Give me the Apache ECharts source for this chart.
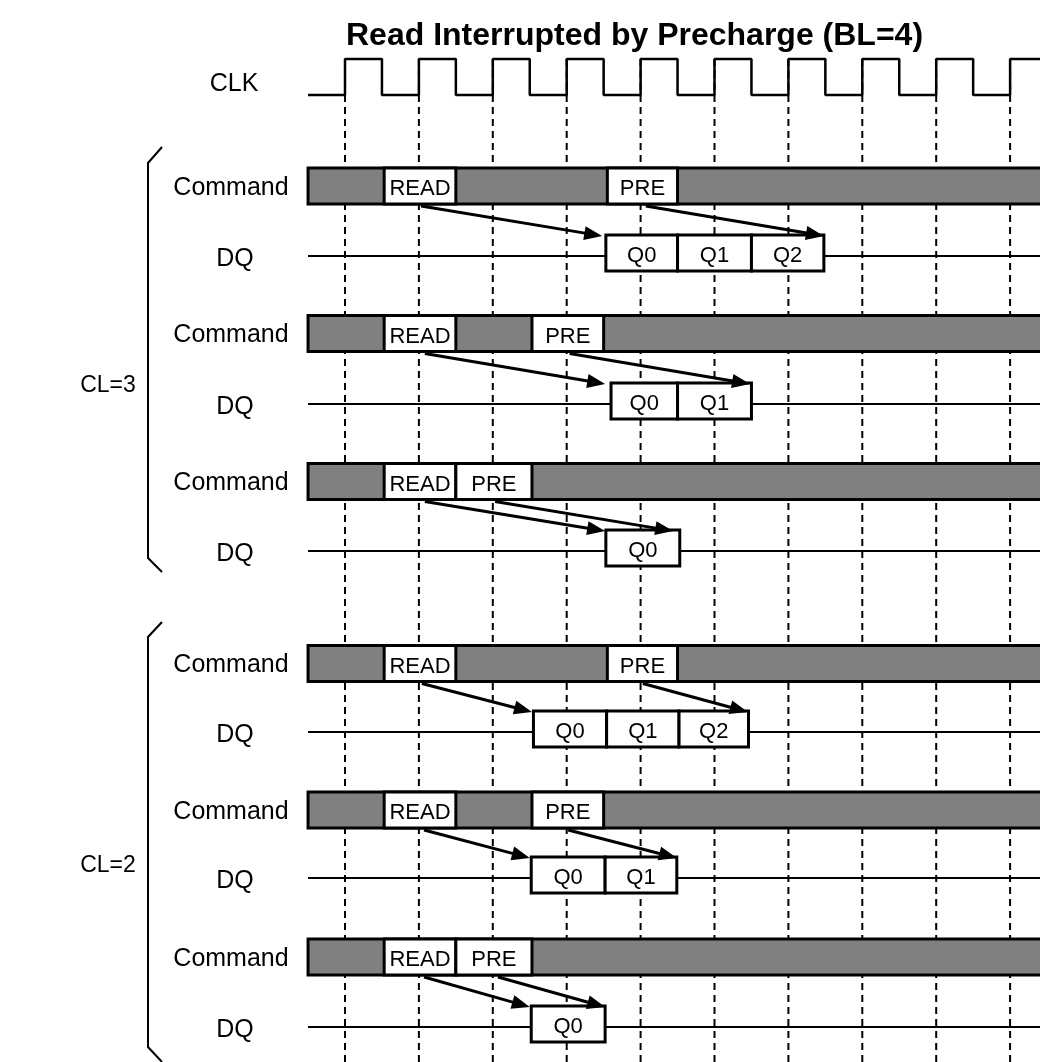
<!DOCTYPE html>
<html><head><meta charset="utf-8">
<script src="https://cdn.jsdelivr.net/npm/echarts@6/dist/echarts.min.js"></script>
<style>html,body{margin:0;padding:0;background:#fff}#c{width:1040px;height:1062px}</style>
</head><body><div id="c"></div>
<script>
// ---------- data ----------
const titleText = 'Read Interrupted by Precharge (BL=4)';
const clockRisingEdges = [0, 1, 2, 3, 4, 5, 6, 7, 8, 9];   // in clock cycles
const clockStart = -0.5, clockEnd = 9.6;
const clockHalf = 0.5;
const laneNames = ['CLK', 'Command', 'DQ'];
const groupNames = ['CL=3', 'CL=2'];
// command cells per row: [label, start, end] (cycles)
const cmdCells = [
  [['READ', 0.53, 1.5], ['PRE', 3.55, 4.5]],
  [['READ', 0.53, 1.5], ['PRE', 2.53, 3.5]],
  [['READ', 0.53, 1.5], ['PRE', 1.5, 2.53]],
  [['READ', 0.53, 1.5], ['PRE', 3.55, 4.5]],
  [['READ', 0.53, 1.5], ['PRE', 2.53, 3.5]],
  [['READ', 0.53, 1.5], ['PRE', 1.5, 2.53]]
];
// data-out cells per row: [label, start, end]
const dqCells = [
  [['Q0', 3.53, 4.5], ['Q1', 4.5, 5.5], ['Q2', 5.5, 6.48]],
  [['Q0', 3.6, 4.5], ['Q1', 4.5, 5.5]],
  [['Q0', 3.53, 4.53]],
  [['Q0', 2.55, 3.54], ['Q1', 3.54, 4.52], ['Q2', 4.52, 5.46]],
  [['Q0', 2.52, 3.52], ['Q1', 3.52, 4.49]],
  [['Q0', 2.52, 3.52]]
];
// arrows per row: [fromCycle (command), toCycle (data)]
const arrowPairs = [
  [[1.03, 3.48], [4.07, 6.48]],
  [[1.08, 3.52], [3.04, 5.48]],
  [[1.08, 3.52], [2.03, 4.44]],
  [[1.04, 2.53], [4.03, 5.45]],
  [[1.07, 2.50], [3.02, 4.49]],
  [[1.07, 2.50], [2.07, 3.52]]
];

// ---------- layout ----------
const W = 1040, H = 1062;
const X0 = 345, CYCLE = 73.9;          // pixel of cycle 0, pixels per cycle
const clkLow = 95, clkHigh = 59;
const cmdY = [186, 333.5, 481.5, 663.5, 810, 957];
const dqY = [256, 404, 551, 732, 878, 1027];
const barH = 36, boxH = 36, boxOff = -21;
const FONT = '"Liberation Sans", Arial, Helvetica, sans-serif';
const GRAY = '#808080';

// ---------- build series data ----------
const clockData = [[clockStart, clkLow]];
clockRisingEdges.forEach((t, i) => {
  clockData.push([t, clkLow], [t, clkHigh]);
  if (i < clockRisingEdges.length - 1) clockData.push([t + clockHalf, clkHigh], [t + clockHalf, clkLow]);
  else clockData.push([clockEnd, clkHigh]);
});
const cmdCellData = [], dqCellData = [], arrowData = [];
cmdCells.forEach((row, r) => row.forEach(c => cmdCellData.push({ name: c[0], value: [c[1], c[2], r] })));
dqCells.forEach((row, r) => row.forEach(c => dqCellData.push({ name: c[0], value: [c[1], c[2], r] })));
arrowPairs.forEach((row, r) => row.forEach(a => arrowData.push([a[0], a[1], r])));
const rowIdx = cmdY.map((_, i) => [clockStart, clockEnd, i]);

const chart = echarts.init(document.getElementById('c'), null, { renderer: 'canvas' });

function cellRender(yArr, h, off, isCmd) {
  return function (params, api) {
    const r = api.value(2);
    const yc = yArr[r];
    const top = yc + off;
    const p0 = api.coord([api.value(0), top]);
    const p1 = api.coord([api.value(1), top + h]);
    const label = (isCmd ? cmdCellData : dqCellData)[params.dataIndex].name;
    return {
      type: 'group',
      children: [
        { type: 'rect', shape: { x: p0[0], y: p0[1], width: p1[0] - p0[0], height: p1[1] - p0[1] },
          style: { fill: '#fff', stroke: '#000', lineWidth: 3 } },
        { type: 'text', style: { text: label, x: (p0[0] + p1[0]) / 2, y: (p0[1] + p1[1]) / 2 + 3,
          align: 'center', verticalAlign: 'middle', font: '22px ' + FONT, fill: '#000' } }
      ]
    };
  };
}

const option = {
  animation: false,
  backgroundColor: '#fff',
  title: {
    text: titleText, left: 341, top: 15,
    textStyle: { fontSize: 32, fontWeight: 'bold', fontFamily: FONT, color: '#000' }
  },
  grid: { left: 0, right: 0, top: 0, bottom: 0 },
  xAxis: { type: 'value', min: -X0 / CYCLE, max: (W - X0) / CYCLE, show: false },
  yAxis: { type: 'value', min: 0, max: H, inverse: true, show: false },
  graphic: [
    { type: 'text', style: { text: laneNames[0], x: 234, y: 84, align: 'center', verticalAlign: 'middle', font: '25px ' + FONT, fill: '#000' } },
    ...cmdY.map(y => ({ type: 'text', style: { text: laneNames[1], x: 231, y: y + 2, align: 'center', verticalAlign: 'middle', font: '25px ' + FONT, fill: '#000' } })),
    ...dqY.map(y => ({ type: 'text', style: { text: laneNames[2], x: 235, y: y + 3, align: 'center', verticalAlign: 'middle', font: '25px ' + FONT, fill: '#000' } })),
    { type: 'text', style: { text: groupNames[0], x: 108, y: 386, align: 'center', verticalAlign: 'middle', font: '23px ' + FONT, fill: '#000' } },
    { type: 'text', style: { text: groupNames[1], x: 108, y: 866, align: 'center', verticalAlign: 'middle', font: '23px ' + FONT, fill: '#000' } },
    { type: 'polyline', shape: { points: [[162, 147], [148, 163], [148, 558], [162, 572]] }, style: { stroke: '#000', lineWidth: 2, fill: null } },
    { type: 'polyline', shape: { points: [[162, 622], [148, 637], [148, 1047], [162, 1062]] }, style: { stroke: '#000', lineWidth: 2, fill: null } }
  ],
  series: [
    { // dashed clock reference lines
      type: 'custom', name: 'edges', z: 1,
      data: clockRisingEdges.map(t => [t]),
      renderItem: (params, api) => {
        const a = api.coord([api.value(0), clkHigh]);
        const b = api.coord([api.value(0), H]);
        return { type: 'line', shape: { x1: a[0], y1: a[1], x2: b[0], y2: b[1] },
          style: { stroke: '#000', lineWidth: 2, lineDash: [7, 5] } };
      }
    },
    { // clock waveform
      type: 'line', name: 'CLK', z: 5, data: clockData, symbol: 'none',
      lineStyle: { color: '#000', width: 2.5 }
    },
    { // DQ baselines
      type: 'custom', name: 'dqline', z: 2, data: rowIdx,
      renderItem: (params, api) => {
        const y = dqY[api.value(2)];
        const a = api.coord([api.value(0), y]);
        const b = api.coord([api.value(1), y]);
        return { type: 'line', shape: { x1: a[0], y1: a[1], x2: b[0], y2: b[1] }, style: { stroke: '#000', lineWidth: 2 } };
      }
    },
    { // command gray background
      type: 'custom', name: 'cmdbg', z: 3, data: rowIdx,
      renderItem: (params, api) => {
        const y = cmdY[api.value(2)];
        const a = api.coord([api.value(0), y - barH / 2]);
        const b = api.coord([api.value(1), y + barH / 2]);
        return { type: 'rect', shape: { x: a[0], y: a[1], width: b[0] - a[0], height: b[1] - a[1] },
          style: { fill: GRAY, stroke: '#000', lineWidth: 3 } };
      }
    },
    { type: 'custom', name: 'cmd', z: 4, data: cmdCellData, renderItem: cellRender(cmdY, barH, -barH / 2, true) },
    { type: 'custom', name: 'dq', z: 4, data: dqCellData, renderItem: cellRender(dqY, boxH, boxOff, false) },
    { // arrows
      type: 'custom', name: 'arrows', z: 6, data: arrowData,
      renderItem: (params, api) => {
        const r = api.value(2);
        const a = api.coord([api.value(0), cmdY[r] + barH / 2 + 2]);
        const b = api.coord([api.value(1), dqY[r] + boxOff + 1]);
        const dx = b[0] - a[0], dy = b[1] - a[1];
        const L = Math.sqrt(dx * dx + dy * dy), ux = dx / L, uy = dy / L;
        const hl = 18, hw = 7;
        const bx = b[0] - ux * hl, by = b[1] - uy * hl;
        return { type: 'group', children: [
          { type: 'line', shape: { x1: a[0], y1: a[1], x2: bx + ux * 2, y2: by + uy * 2 }, style: { stroke: '#000', lineWidth: 3 } },
          { type: 'polygon', shape: { points: [[b[0], b[1]], [bx - uy * hw, by + ux * hw], [bx + uy * hw, by - ux * hw]] }, style: { fill: '#000' } }
        ] };
      }
    }
  ]
};
chart.setOption(option);
</script>
</body></html>
